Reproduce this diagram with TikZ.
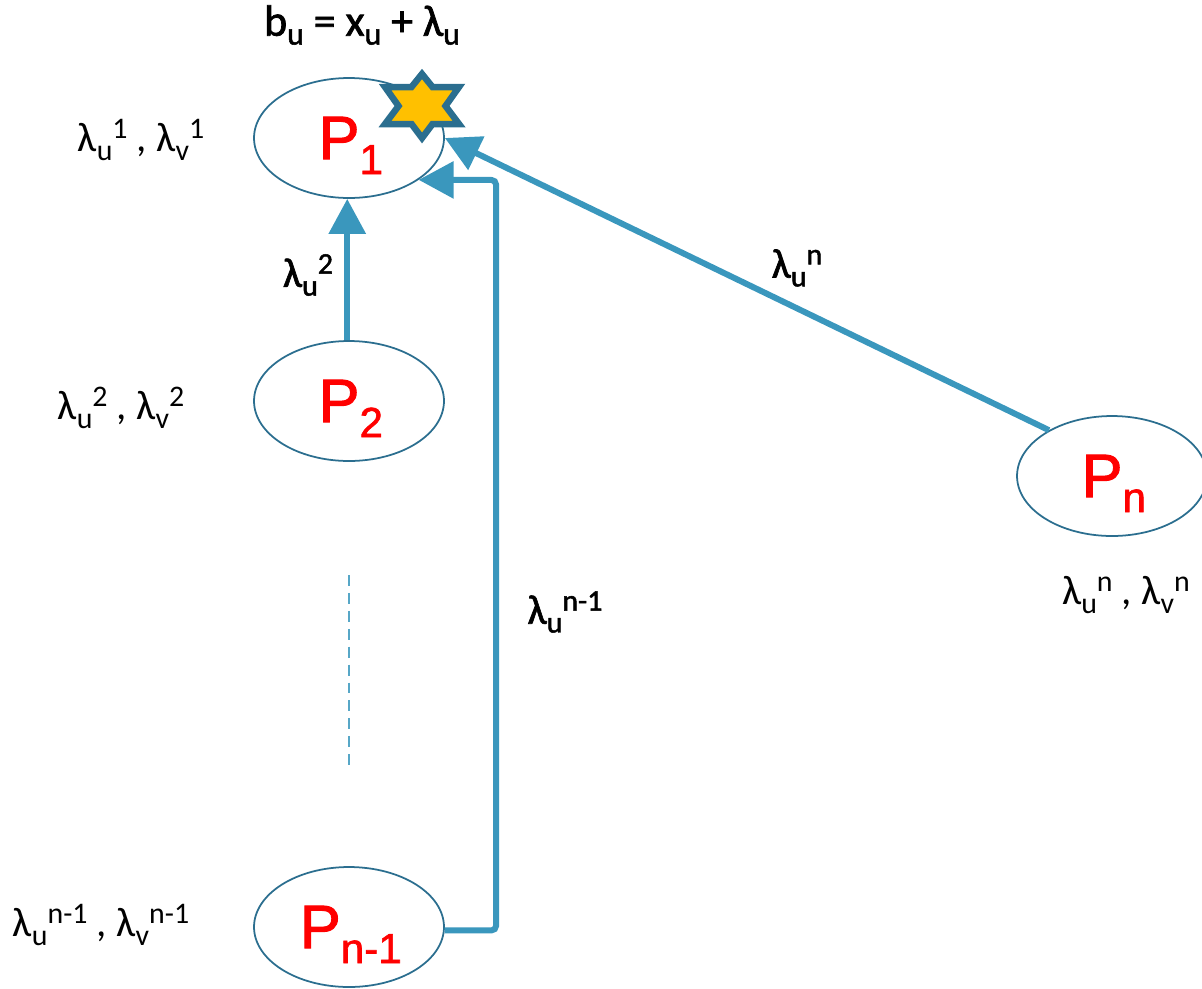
\documentclass[tikz,border=0pt]{standalone}
\usepackage{fontspec}
\usepackage{tikz}
\usetikzlibrary{arrows.meta,positioning,calc,shapes.geometric}
\setmainfont{Carlito}
\newfontfamily\procfont[FakeBold=1.5]{Liberation Sans}
\newfontfamily\boldfont[FakeBold=1.6]{Carlito}
\definecolor{edgeblue}{HTML}{3A97BD}
\definecolor{ringblue}{HTML}{2B6E8F}
\definecolor{stargold}{HTML}{FFC000}
\newcommand{\proc}[1]{\hspace{2pt}\raisebox{-1.7pt}{P\raisebox{-8.5pt}[0pt][0pt]{\fontsize{24}{24}\selectfont #1}}}
\newcommand{\lam}[2]{λ\raisebox{-5pt}{\fontsize{17}{17}\selectfont #1}\raisebox{7.5pt}{\fontsize{17}{17}\selectfont #2}}
\newcommand{\subu}{\raisebox{-5pt}{\fontsize{18}{18}\selectfont u}}
\begin{document}
\begin{tikzpicture}[x=0.02cm,y=-0.02cm,
  procnode/.style={ellipse,draw=ringblue,line width=1pt,minimum width=3.8cm,minimum height=2.4cm,inner sep=0pt,
    text=red,font=\procfont\fontsize{35}{35}\selectfont},
  flow/.style={draw=edgeblue,line width=0.12cm,-{Triangle[length=0.7cm,width=0.72cm]}},
  lab/.style={inner sep=0pt,font=\fontsize{23.5}{25}\selectfont},
  blab/.style={inner sep=0pt,font=\boldfont\fontsize{23.5}{25}\selectfont}]
\useasboundingbox (0,0) rectangle (1202,988);
\node[procnode] (P1) at (349,138) {\proc{1}};
\node[procnode] (P2) at (349,401) {\proc{2}};
\node[procnode] (Pm) at (349,927) {\proc{n-1}};
\node[procnode] (Pn) at (1112,476) {\proc{n}};
% connectors
\draw[flow] ([xshift=-1pt]P2.north) -- ([xshift=-1pt]P1.south);
\coordinate (turn) at (496,180);
\draw[flow,rounded corners=2.5pt] (Pm.-2) -| (turn) -- (P1.-31);
\draw[flow] (Pn.144.5) -- (P1.east);
% dots between P2 and Pn-1
\coordinate (gaptop) at (349,575);
\coordinate (gapbot) at (349,765);
\draw[edgeblue!85,line width=0.8pt,dash pattern=on 6.2pt off 4pt] (gaptop) -- (gapbot);
% star on P1
\draw[draw=ringblue,fill=stargold,line width=0.13cm,miter limit=10]
  (422,74) -- (432.5,87) -- (459,87) -- (445.5,106) -- (459,124) -- (432.5,124) -- (422,138)
  -- (411.5,124) -- (385,124) -- (398.5,106) -- (385,87) -- (411.5,87) -- cycle;
% labels
\node[blab,font=\boldfont\fontsize{25}{27}\selectfont] (bu) at (362,25) {b\subu{} = x\subu{} + λ\subu};
\node[lab] (lam1) at (141,140) {\lam{u}{1} , \lam{v}{1}};
\node[lab] (lam2) at (121,408) {\lam{u}{2} , \lam{v}{2}};
\node[lab] (lamm) at (101,925) {\lam{u}{n-1} , \lam{v}{n-1}};
\node[lab] (lamn) at (1126,595) {\lam{u}{n} , \lam{v}{n}};
\node[blab] (e2) at (308,275) {\lam{u}{2}};
\node[blab] (em) at (565,612) {\lam{u}{n-1}};
\node[blab] (en) at (797,268) {\lam{u}{n}};
\end{tikzpicture}
\end{document}
